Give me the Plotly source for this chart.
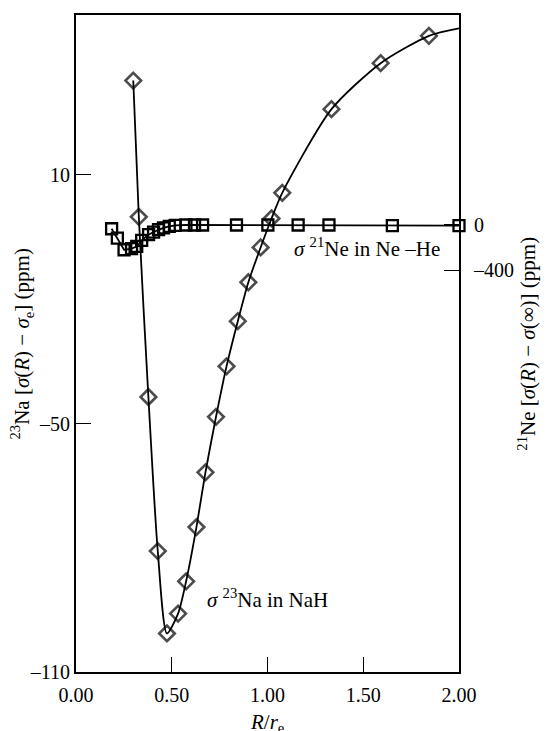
import plotly.graph_objects as go

# 23Na in NaH (left axis)
na_r = [0.299, 0.328, 0.378, 0.427, 0.475, 0.533, 0.575, 0.629, 0.676, 0.731,
        0.786, 0.845, 0.900, 0.964, 1.021, 1.077, 1.334, 1.591, 1.843, 2.0]
na_sigma = [32.8, -0.1, -43.6, -80.8, -100.7, -95.9, -88.1, -75.0, -61.8, -48.4,
            -36.2, -25.3, -15.9, -7.5, -0.5, 5.7, 25.9, 37.0, 43.6, 45.4]
na_marker_size = [12] * 19 + [0]

# 21Ne in Ne-He (right axis)
ne_r = [0.186, 0.216, 0.251, 0.290, 0.317, 0.343, 0.379, 0.405, 0.431, 0.457,
        0.487, 0.518, 0.574, 0.619, 0.661, 0.838, 1.002, 1.160, 1.321, 1.652, 2.0]
ne_sigma = [-33, -115, -218, -208, -189, -136, -85, -62, -41, -26,
            -12, -4, 0, 0, 0, 0, 0, 0, 0, -5, -5]

x_ticks = [0.0, 0.5, 1.0, 1.5, 2.0]
x_ticktext = ["0.00", "0.50", "1.00", "1.50", "2.00"]
y_ticks = [10, -50, -110]
y_ticktext = ["10", "\u201350", "\u2013110"]
y2_ticks = [0, -400]
y2_ticktext = ["0", "\u2013400"]

FONT = "Liberation Serif, Times New Roman, serif"

fig = go.Figure()
fig.add_trace(go.Scatter(
    x=ne_r, y=ne_sigma, yaxis="y2", mode="lines+markers",
    line=dict(color="black", width=1.8),
    marker=dict(symbol="square-open", size=11, color="black",
                line=dict(width=2.3, color="black")),
    showlegend=False, cliponaxis=False))
fig.add_trace(go.Scatter(
    x=na_r, y=na_sigma, yaxis="y", mode="lines+markers",
    line=dict(color="black", width=1.8, shape="spline", smoothing=0.7),
    marker=dict(symbol="diamond-open", size=na_marker_size, color="black",
                line=dict(width=2.6, color="black")),
    showlegend=False, cliponaxis=False))

axis_common = dict(showline=True, linecolor="black", linewidth=2, ticks="inside",
                   ticklen=15, tickwidth=1.2, tickcolor="black", showgrid=False,
                   zeroline=False, tickfont=dict(family=FONT, size=20, color="black"))

fig.update_layout(
    width=549, height=731,
    margin=dict(l=76, r=90, t=15, b=59),
    paper_bgcolor="white", plot_bgcolor="white",
    font=dict(family=FONT, size=20, color="black"),
    xaxis=dict(range=[0, 2], tickvals=x_ticks, ticktext=x_ticktext, mirror=True,
               ticklabelstandoff=4, **axis_common),
    yaxis=dict(range=[-110, 48.63], tickvals=y_ticks, ticktext=y_ticktext,
               ticklabelstandoff=0, **axis_common),
    yaxis2=dict(range=[-3930, 1846], tickvals=y2_ticks, ticktext=y2_ticktext,
                overlaying="y", side="right", ticklabelstandoff=9, **axis_common),
    annotations=[
        dict(text="<i>σ</i> <sup>21</sup>Ne in Ne \u2013He", x=1.126, y=-7.6,
             xref="x", yref="y", xanchor="left", yanchor="middle", showarrow=False,
             font=dict(family=FONT, size=21)),
        dict(text="<i>σ</i> <sup>23</sup>Na in NaH", x=0.673, y=-92.3,
             xref="x", yref="y", xanchor="left", yanchor="middle", showarrow=False,
             font=dict(family=FONT, size=21)),
        dict(text="<sup>23</sup>Na [<i>σ</i>(<i>R</i>) \u2212 <i>σ</i><sub>e</sub>] (ppm)",
             x=-0.141, y=0.5, xref="paper", yref="paper", textangle=-90,
             xanchor="center", yanchor="middle", showarrow=False,
             font=dict(family=FONT, size=21)),
        dict(text="<sup>21</sup>Ne [<i>σ</i>(<i>R</i>) \u2212 <i>σ</i>(∞)] (ppm)",
             x=1.178, y=0.5, xref="paper", yref="paper", textangle=-90,
             xanchor="center", yanchor="middle", showarrow=False,
             font=dict(family=FONT, size=21)),
        dict(text="<i>R</i>/<i>r</i><sub>e</sub>", x=0.5, y=-0.0776,
             xref="paper", yref="paper", xanchor="center", yanchor="middle",
             showarrow=False, font=dict(family=FONT, size=21)),
    ],
)

fig.write_html("out.html", config={"displayModeBar": False},
               post_script="document.body.style.margin='0';")
